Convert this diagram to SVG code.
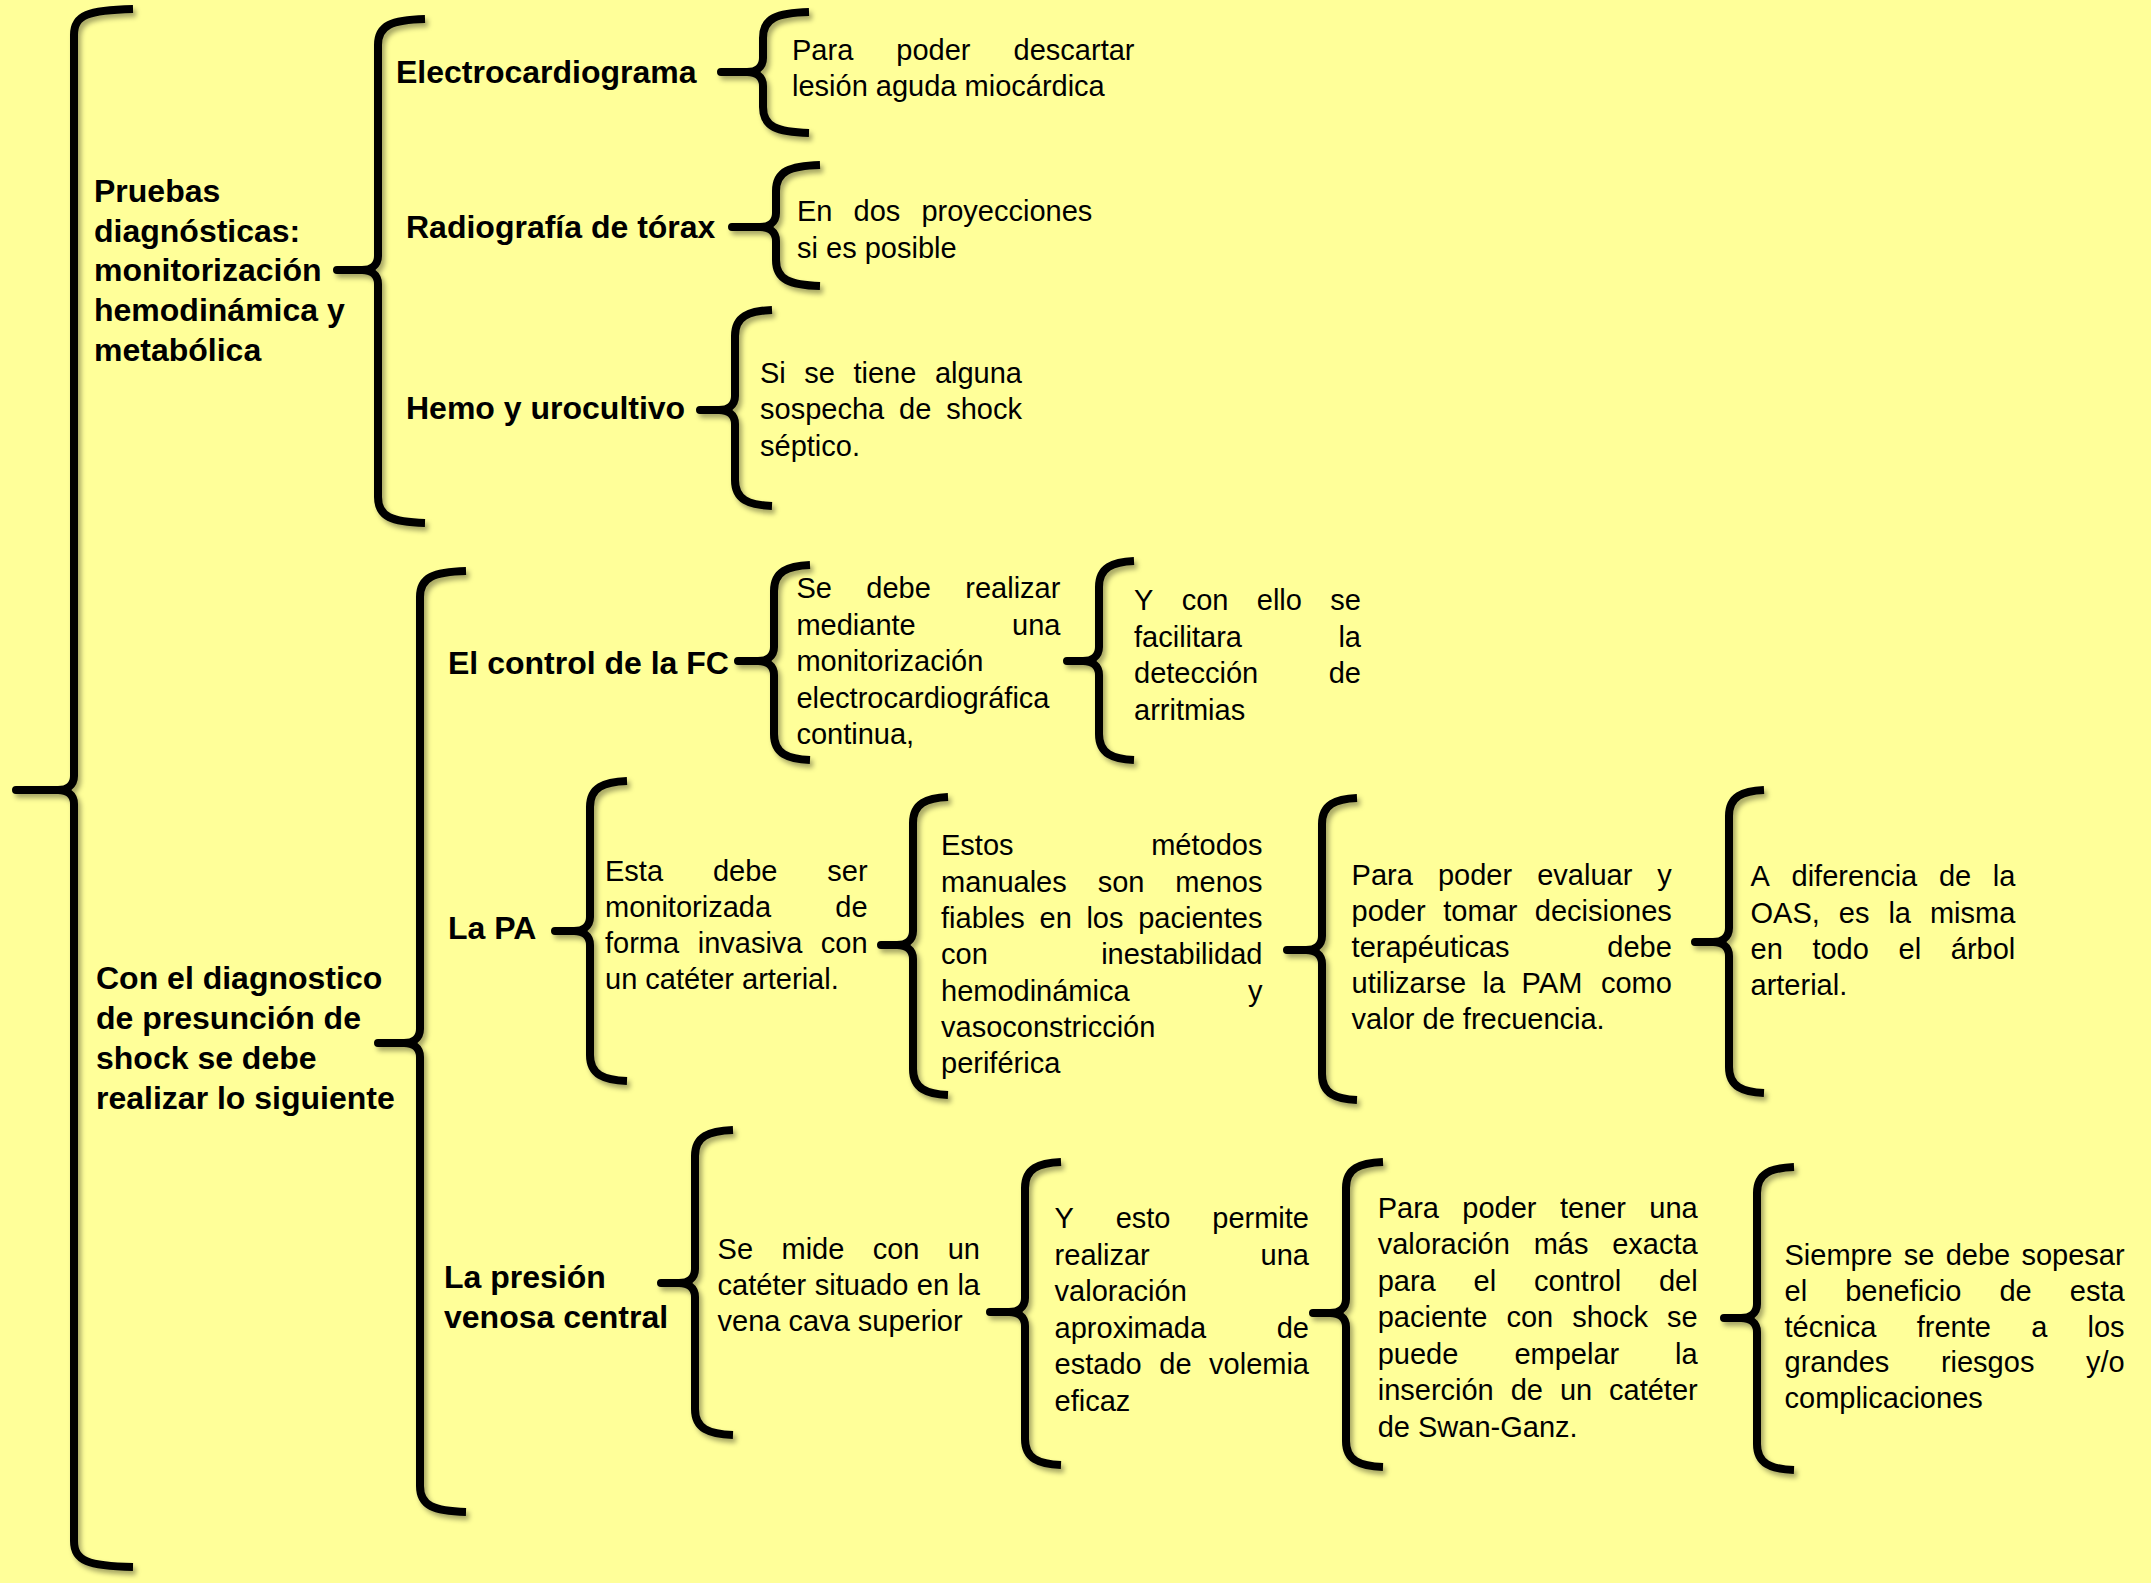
<svg xmlns="http://www.w3.org/2000/svg" width="2151" height="1583" viewBox="0 0 2151 1583">
<defs>
<filter id="sh" x="-20%" y="-5%" width="140%" height="110%">
<feDropShadow dx="3" dy="4" stdDeviation="2.5" flood-color="#000" flood-opacity="0.35"/>
</filter>
<style>
.b{font-family:"Liberation Sans",Arial,sans-serif;font-weight:bold;font-size:32px;fill:#000}
.t{font-family:"Liberation Sans",Arial,sans-serif;font-size:29px;fill:#000}
.e{text-anchor:end}
.br{fill:none;stroke:#000;stroke-width:8;stroke-linejoin:round;stroke-linecap:butt}
</style>
</defs>
<rect width="2151" height="1583" fill="#FFFF99"/>
<g id="connectors" filter="url(#sh)">
<path class="br" d="M133 9 C88 10 74 15 74 35 L74 776 C74 786 66 790 58 790 L16 790 L58 790 C66 790 74 794 74 804 L74 1541 C74 1561 88 1566 133 1567"/>
<path class="br" d="M425 19 C392 20 378 25 378 45 L378 256 C378 266 370 270 362 270 L337 270 L362 270 C370 270 378 274 378 284 L378 497 C378 517 392 522 425 523"/>
<path class="br" d="M809 12 C777 13 763 18 763 38 L763 58 C763 68 755 72 747 72 L721 72 L747 72 C755 72 763 76 763 86 L763 107 C763 127 777 132 809 133"/>
<path class="br" d="M820 165 C790 166 776 171 776 191 L776 213 C776 223 768 227 760 227 L732 227 L760 227 C768 227 776 231 776 241 L776 260 C776 280 790 285 820 286"/>
<path class="br" d="M772 310 C749 311 735 316 735 336 L735 396 C735 406 727 410 719 410 L700 410 L719 410 C727 410 735 414 735 424 L735 480 C735 500 749 505 772 506"/>
<path class="br" d="M466 571 C434 572 420 577 420 597 L420 1029 C420 1039 412 1043 404 1043 L378 1043 L404 1043 C412 1043 420 1047 420 1057 L420 1486 C420 1506 434 1511 466 1512"/>
<path class="br" d="M810 565 C788 566 774 571 774 591 L774 647 C774 657 766 661 758 661 L738 661 L758 661 C766 661 774 665 774 675 L774 734 C774 754 788 759 810 760"/>
<path class="br" d="M1134 561 C1113 562 1099 567 1099 587 L1099 647 C1099 657 1091 661 1083 661 L1067 661 L1083 661 C1091 661 1099 665 1099 675 L1099 734 C1099 754 1113 759 1134 760"/>
<path class="br" d="M627 781 C604 782 590 787 590 807 L590 917 C590 927 582 931 574 931 L555 931 L574 931 C582 931 590 935 590 945 L590 1055 C590 1075 604 1080 627 1081"/>
<path class="br" d="M948 797 C927 798 913 803 913 823 L913 931 C913 941 905 945 897 945 L881 945 L897 945 C905 945 913 949 913 959 L913 1069 C913 1089 927 1094 948 1095"/>
<path class="br" d="M1357 798 C1336 799 1322 804 1322 824 L1322 936 C1322 946 1314 950 1306 950 L1287 950 L1306 950 C1314 950 1322 954 1322 964 L1322 1074 C1322 1094 1336 1099 1357 1100"/>
<path class="br" d="M1764 790 C1743 791 1729 796 1729 816 L1729 928 C1729 938 1721 942 1713 942 L1695 942 L1713 942 C1721 942 1729 946 1729 956 L1729 1067 C1729 1087 1743 1092 1764 1093"/>
<path class="br" d="M733 1130 C709 1131 695 1136 695 1156 L695 1269 C695 1279 687 1283 679 1283 L661 1283 L679 1283 C687 1283 695 1287 695 1297 L695 1409 C695 1429 709 1434 733 1435"/>
<path class="br" d="M1061 1162 C1039 1163 1025 1168 1025 1188 L1025 1298 C1025 1308 1017 1312 1009 1312 L990 1312 L1009 1312 C1017 1312 1025 1316 1025 1326 L1025 1439 C1025 1459 1039 1464 1061 1465"/>
<path class="br" d="M1383 1162 C1360 1163 1346 1168 1346 1188 L1346 1299 C1346 1309 1338 1313 1330 1313 L1313 1313 L1330 1313 C1338 1313 1346 1317 1346 1327 L1346 1441 C1346 1461 1360 1466 1383 1467"/>
<path class="br" d="M1794 1167 C1771 1168 1757 1173 1757 1193 L1757 1304 C1757 1314 1749 1318 1741 1318 L1724 1318 L1741 1318 C1749 1318 1757 1322 1757 1332 L1757 1444 C1757 1464 1771 1469 1794 1470"/>
</g>

<g id="n-pruebas"><text class="b"><tspan x="94" y="202">Pruebas</tspan><tspan x="94" y="241.7">diagnósticas:</tspan><tspan x="94" y="281.4">monitorización</tspan><tspan x="94" y="321">hemodinámica y</tspan><tspan x="94" y="360.8">metabólica</tspan></text></g>
<g id="n-ecg"><text class="b" x="396" y="83">Electrocardiograma</text></g>
<g id="n-rx"><text class="b" x="406" y="238">Radiografía de tórax</text></g>
<g id="n-hemo"><text class="b" x="406" y="419">Hemo y urocultivo</text></g>

<g id="n-ecg-d"><text class="t"><tspan x="792" y="59.5">Para</tspan><tspan x="896.3" y="59.5">poder</tspan><tspan x="1134.5" y="59.5" class="e">descartar</tspan><tspan x="792" y="95.7">lesión aguda miocárdica</tspan></text></g>
<g id="n-rx-d"><text class="t"><tspan x="797" y="221.4">En</tspan><tspan x="853.6" y="221.4">dos</tspan><tspan x="1092.3" y="221.4" class="e">proyecciones</tspan><tspan x="797" y="257.5">si es posible</tspan></text></g>
<g id="n-hemo-d"><text class="t"><tspan x="760" y="383.2">Si</tspan><tspan x="804.3" y="383.2">se</tspan><tspan x="853.4" y="383.2">tiene</tspan><tspan x="1022" y="383.2" class="e">alguna</tspan><tspan x="760" y="419.4">sospecha</tspan><tspan x="899.1" y="419.4">de</tspan><tspan x="1022" y="419.4" class="e">shock</tspan><tspan x="760" y="455.5">séptico.</tspan></text></g>

<g id="n-shock"><text class="b"><tspan x="96" y="989">Con el diagnostico</tspan><tspan x="96" y="1029">de presunción de</tspan><tspan x="96" y="1069">shock se debe</tspan><tspan x="96" y="1108.5">realizar lo siguiente</tspan></text></g>
<g id="n-fc"><text class="b" x="448" y="674">El control de la FC</text></g>
<g id="n-pa"><text class="b" x="448" y="939">La PA</text></g>
<g id="n-pvc"><text class="b"><tspan x="444" y="1288">La presión</tspan><tspan x="444" y="1328">venosa central</tspan></text></g>

<g id="n-fc-1"><text class="t"><tspan x="796.4" y="598">Se</tspan><tspan x="866.3" y="598">debe</tspan><tspan x="1060.4" y="598" class="e">realizar</tspan><tspan x="796.4" y="634.5">mediante</tspan><tspan x="1060.4" y="634.5" class="e">una</tspan><tspan x="796.4" y="671">monitorización</tspan><tspan x="796.4" y="707.5">electrocardiográfica</tspan><tspan x="796.4" y="744">continua,</tspan></text></g>
<g id="n-fc-2"><text class="t"><tspan x="1134" y="610">Y</tspan><tspan x="1181.7" y="610">con</tspan><tspan x="1256.8" y="610">ello</tspan><tspan x="1361" y="610" class="e">se</tspan><tspan x="1134" y="646.5">facilitara</tspan><tspan x="1361" y="646.5" class="e">la</tspan><tspan x="1134" y="683">detección</tspan><tspan x="1361" y="683" class="e">de</tspan><tspan x="1134" y="719.5">arritmias</tspan></text></g>

<g id="n-pa-1"><text class="t"><tspan x="605" y="880.6">Esta</tspan><tspan x="712.9" y="880.6">debe</tspan><tspan x="867.6" y="880.6" class="e">ser</tspan><tspan x="605" y="917">monitorizada</tspan><tspan x="867.6" y="917" class="e">de</tspan><tspan x="605" y="953">forma</tspan><tspan x="697.7" y="953">invasiva</tspan><tspan x="867.6" y="953" class="e">con</tspan><tspan x="605" y="989">un catéter arterial.</tspan></text></g>
<g id="n-pa-2"><text class="t"><tspan x="941" y="855">Estos</tspan><tspan x="1262.4" y="855" class="e">métodos</tspan><tspan x="941" y="891.5">manuales</tspan><tspan x="1097.7" y="891.5">son</tspan><tspan x="1262.4" y="891.5" class="e">menos</tspan><tspan x="941" y="928">fiables</tspan><tspan x="1039.5" y="928">en</tspan><tspan x="1086.4" y="928">los</tspan><tspan x="1262.4" y="928" class="e">pacientes</tspan><tspan x="941" y="964">con</tspan><tspan x="1262.4" y="964" class="e">inestabilidad</tspan><tspan x="941" y="1000.5">hemodinámica</tspan><tspan x="1262.4" y="1000.5" class="e">y</tspan><tspan x="941" y="1037">vasoconstricción</tspan><tspan x="941" y="1073">periférica</tspan></text></g>
<g id="n-pa-3"><text class="t"><tspan x="1351.6" y="884.5">Para</tspan><tspan x="1437.9" y="884.5">poder</tspan><tspan x="1537.2" y="884.5">evaluar</tspan><tspan x="1671.8" y="884.5" class="e">y</tspan><tspan x="1351.6" y="921">poder</tspan><tspan x="1443.3" y="921">tomar</tspan><tspan x="1671.8" y="921" class="e">decisiones</tspan><tspan x="1351.6" y="957">terapéuticas</tspan><tspan x="1671.8" y="957" class="e">debe</tspan><tspan x="1351.6" y="993">utilizarse</tspan><tspan x="1482.5" y="993">la</tspan><tspan x="1521.6" y="993">PAM</tspan><tspan x="1671.8" y="993" class="e">como</tspan><tspan x="1351.6" y="1029">valor de frecuencia.</tspan></text></g>
<g id="n-pa-4"><text class="t"><tspan x="1750.5" y="886">A</tspan><tspan x="1791.5" y="886">diferencia</tspan><tspan x="1938.9" y="886">de</tspan><tspan x="2015.3" y="886" class="e">la</tspan><tspan x="1750.5" y="922.5">OAS,</tspan><tspan x="1838.8" y="922.5">es</tspan><tspan x="1888.4" y="922.5">la</tspan><tspan x="2015.3" y="922.5" class="e">misma</tspan><tspan x="1750.5" y="958.5">en</tspan><tspan x="1812.4" y="958.5">todo</tspan><tspan x="1898.5" y="958.5">el</tspan><tspan x="2015.3" y="958.5" class="e">árbol</tspan><tspan x="1750.5" y="994.5">arterial.</tspan></text></g>

<g id="n-pvc-1"><text class="t"><tspan x="717.6" y="1259.3">Se</tspan><tspan x="781.5" y="1259.3">mide</tspan><tspan x="872.7" y="1259.3">con</tspan><tspan x="980" y="1259.3" class="e">un</tspan><tspan x="717.6" y="1295">catéter</tspan><tspan x="814.8" y="1295">situado</tspan><tspan x="916.8" y="1295">en</tspan><tspan x="980" y="1295" class="e">la</tspan><tspan x="717.6" y="1331">vena cava superior</tspan></text></g>
<g id="n-pvc-2"><text class="t"><tspan x="1054.6" y="1228">Y</tspan><tspan x="1115.7" y="1228">esto</tspan><tspan x="1309" y="1228" class="e">permite</tspan><tspan x="1054.6" y="1264.5">realizar</tspan><tspan x="1309" y="1264.5" class="e">una</tspan><tspan x="1054.6" y="1301">valoración</tspan><tspan x="1054.6" y="1337.5">aproximada</tspan><tspan x="1309" y="1337.5" class="e">de</tspan><tspan x="1054.6" y="1374">estado</tspan><tspan x="1159.3" y="1374">de</tspan><tspan x="1309" y="1374" class="e">volemia</tspan><tspan x="1054.6" y="1410.5">eficaz</tspan></text></g>
<g id="n-pvc-3"><text class="t"><tspan x="1377.7" y="1217.5">Para</tspan><tspan x="1462.3" y="1217.5">poder</tspan><tspan x="1559.9" y="1217.5">tener</tspan><tspan x="1697.7" y="1217.5" class="e">una</tspan><tspan x="1377.7" y="1254">valoración</tspan><tspan x="1533.7" y="1254">más</tspan><tspan x="1697.7" y="1254" class="e">exacta</tspan><tspan x="1377.7" y="1290.5">para</tspan><tspan x="1473.6" y="1290.5">el</tspan><tspan x="1534.1" y="1290.5">control</tspan><tspan x="1697.7" y="1290.5" class="e">del</tspan><tspan x="1377.7" y="1327">paciente</tspan><tspan x="1506.4" y="1327">con</tspan><tspan x="1572.2" y="1327">shock</tspan><tspan x="1697.7" y="1327" class="e">se</tspan><tspan x="1377.7" y="1363.5">puede</tspan><tspan x="1514.4" y="1363.5">empelar</tspan><tspan x="1697.7" y="1363.5" class="e">la</tspan><tspan x="1377.7" y="1400">inserción</tspan><tspan x="1510.7" y="1400">de</tspan><tspan x="1559.9" y="1400">un</tspan><tspan x="1697.7" y="1400" class="e">catéter</tspan><tspan x="1377.7" y="1436.5">de Swan-Ganz.</tspan></text></g>
<g id="n-pvc-4"><text class="t"><tspan x="1784.5" y="1264.5">Siempre</tspan><tspan x="1903.8" y="1264.5">se</tspan><tspan x="1945.7" y="1264.5">debe</tspan><tspan x="2124.6" y="1264.5" class="e">sopesar</tspan><tspan x="1784.5" y="1300.5">el</tspan><tspan x="1845.2" y="1300.5">beneficio</tspan><tspan x="1999.4" y="1300.5">de</tspan><tspan x="2124.6" y="1300.5" class="e">esta</tspan><tspan x="1784.5" y="1336.5">técnica</tspan><tspan x="1916.7" y="1336.5">frente</tspan><tspan x="2031.2" y="1336.5">a</tspan><tspan x="2124.6" y="1336.5" class="e">los</tspan><tspan x="1784.5" y="1372">grandes</tspan><tspan x="1940.9" y="1372">riesgos</tspan><tspan x="2124.6" y="1372" class="e">y/o</tspan><tspan x="1784.5" y="1408">complicaciones</tspan></text></g>
</svg>
